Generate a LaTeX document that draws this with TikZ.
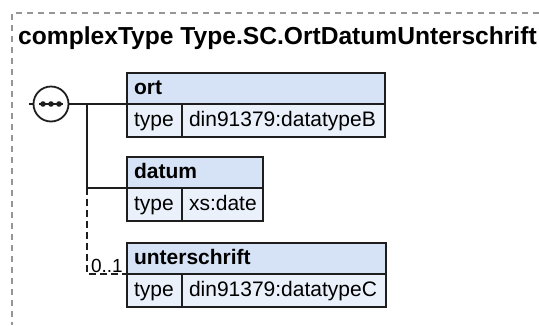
\documentclass[tikz,border=0pt]{standalone}
\usepackage{fontspec}
\setmainfont{Liberation Sans}
\usepackage{xcolor}
\usetikzlibrary{positioning, calc}

\definecolor{hdrblue}{RGB}{214,227,247}
\definecolor{rowblue}{RGB}{234,241,251}
\definecolor{edgegray}{RGB}{30,30,30}
\definecolor{framegray}{RGB}{150,150,150}

\tikzset{
  hdr/.style={draw=edgegray, fill=hdrblue, line width=1.8, anchor=north west, align=left,
    outer sep=0, inner xsep=7, inner ysep=0, minimum height=31, text height=15.5, text depth=4.5,
    font=\fontsize{21}{24}\selectfont\bfseries},
  cell/.style={draw=edgegray, fill=rowblue, line width=1.8, anchor=north west, align=left,
    outer sep=0, inner xsep=7, inner ysep=0, minimum height=33, text height=15.5, text depth=4.5,
    font=\fontsize{21}{24}\selectfont},
  wire/.style={draw=edgegray, line width=1.8}
}

\begin{document}
\begin{tikzpicture}[x=1pt, y=-1pt]
  \useasboundingbox (0,0) rectangle (539,325);
  % Frame
  \draw[framegray, line width=1.5, dash pattern=on 6 off 5] (539,13) -- (12,13) -- (12,325);
  \node[anchor=base west, inner sep=0, font=\fontsize{24.6}{28}\selectfont\bfseries] (title) at (18,44) {complexType Type.SC.OrtDatumUnterschrift};

  % Sequence
  \node[wire, circle, fill=white, minimum size=35, inner sep=0, outer sep=0] (seq) at (51,104) {};
  \draw[wire] ($(seq.center)+(-12,0)$) -- ($(seq.center)+(12,0)$);
  \foreach \dx in {-8,0,8}
    \fill[edgegray] ($(seq.center)+(\dx,0)$) circle (2.8);
  \coordinate (start) at (29,104);
  \coordinate (fork) at (87,104);

  % ort
  \node[hdr, text width=244] (ort) at (127,73) {ort};
  \node[cell, text width=41] (orttype) at (ort.south west) {type};
  \node[cell, text width=189] (ortval) at (orttype.north east) {din91379:datatypeB};
  % datum
  \node[hdr, text width=122] (datum) at (127,157) {datum};
  \node[cell, text width=41] (datumtype) at (datum.south west) {type};
  \node[cell, text width=67] (datumval) at (datumtype.north east) {xs:date};
  % unterschrift
  \node[hdr, text width=245] (unt) at (127,243) {unterschrift};
  \node[cell, text width=41] (unttype) at (unt.south west) {type};
  \node[cell, text width=190] (untval) at (unttype.north east) {din91379:datatypeC};

  % Connectors
  \draw[wire] (start) -- (seq.west);
  \draw[wire] (seq.east) -- (ort.south west);
  \draw[wire] (fork) |- (datum.south west);
  \draw[wire, dash pattern=on 7 off 4] (fork |- datum.south west) |- (unt.south west);
  \node[anchor=south east, inner sep=1, font=\fontsize{19}{22}\selectfont] (card) at ([xshift=-3]unt.south west) {0..1};
\end{tikzpicture}
\end{document}
